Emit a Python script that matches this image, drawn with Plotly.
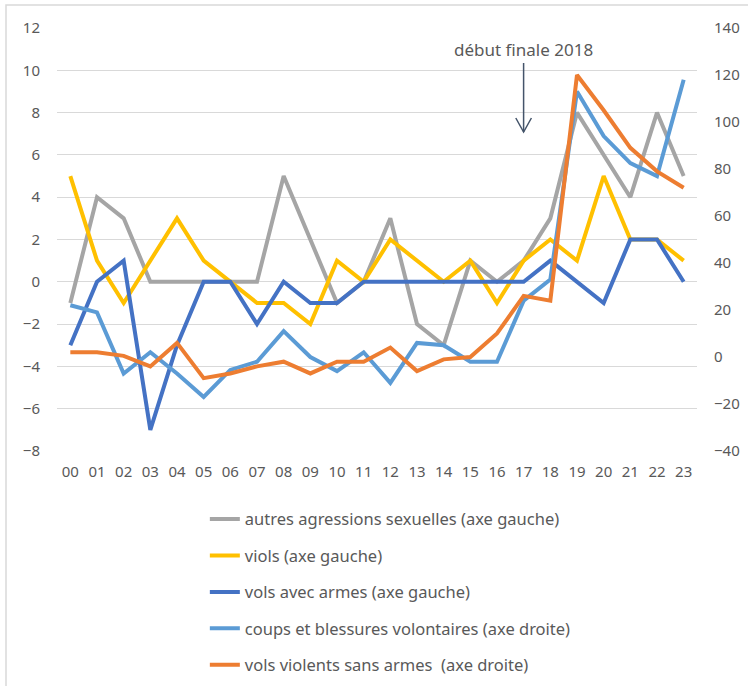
import plotly.graph_objects as go

categories = ["00","01","02","03","04","05","06","07","08","09","10","11",
              "12","13","14","15","16","17","18","19","20","21","22","23"]

autres_agressions = [-1, 4, 3, 0, 0, 0, 0, 0, 5, 2, -1, 0, 3, -2, -3, 1, 0, 1, 3, 8, 6, 4, 8, 5]
viols = [5, 1, -1, 1, 3, 1, 0, -1, -1, -2, 1, 0, 2, 1, 0, 1, -1, 1, 2, 1, 5, 2, 2, 1]
vols_armes = [-3, 0, 1, -7, -3, 0, 0, -2, 0, -1, -1, 0, 0, 0, 0, 0, 0, 0, 1, 0, -1, 2, 2, 0]
coups_blessures = [22, 19, -7, 2, -7, -17, -5.5, -2, 11, 0, -6, 2, -11, 6, 5, -2, -2, 24, 33, 113, 94, 82.5, 77, 118]
vols_violents = [2, 2, 0.5, -4, 6, -9, -7, -4, -2, -7, -2, -2, 4, -6, -1, 0, 10, 26, 24, 120, 105, 89, 79, 72]

left_ticks = [12, 10, 8, 6, 4, 2, 0, -2, -4, -6, -8]
right_ticks = [140, 120, 100, 80, 60, 40, 20, 0, -20, -40]

FONT = "Noto Sans"
TXT = "#595959"

fig = go.Figure()
series = [
    ("autres agressions sexuelles (axe gauche)", autres_agressions, "#a5a5a5", "y"),
    ("viols (axe gauche)", viols, "#ffc000", "y"),
    ("vols avec armes (axe gauche)", vols_armes, "#4472c4", "y"),
    ("coups et blessures volontaires (axe droite)", coups_blessures, "#5b9bd5", "y2"),
    ("vols violents sans armes  (axe droite)", vols_violents, "#ed7d31", "y2"),
]
for i, (name, vals, col, ax) in enumerate(series):
    fig.add_trace(go.Scatter(x=categories, y=vals, name=name, mode="lines",
                             line=dict(color=col, width=4), yaxis=ax,
                             legendgroup=f"g{i}"))

fig.update_layout(
    width=748, height=686,
    margin=dict(l=57, r=51, t=28, b=235, autoexpand=False),
    plot_bgcolor="white", paper_bgcolor="white",
    font=dict(family=FONT, size=15, color=TXT),
    xaxis=dict(type="category", range=[-0.5, 23.5], showgrid=False, showline=False, ticks="",
               automargin=False,
               tickfont=dict(size=15, color=TXT), ticklabelstandoff=10),
    yaxis=dict(range=[-8, 12], tickvals=left_ticks, showgrid=True, automargin=False,
               gridcolor="#d9d9d9", gridwidth=1.3, zeroline=False, ticks="",
               tickfont=dict(size=15, color=TXT), ticklabelstandoff=16),
    yaxis2=dict(range=[-40, 140], tickvals=right_ticks, overlaying="y", side="right",
                showgrid=False, zeroline=False, ticks="", automargin=False,
                tickfont=dict(size=15, color=TXT), ticklabelstandoff=16),
    showlegend=True,
    legend=dict(x=0.231, y=-0.12, xanchor="left", yanchor="top",
                orientation="v", tracegroupgap=12,
                font=dict(family=FONT, size=16.5, color=TXT),
                bgcolor="rgba(0,0,0,0)"),
)

# border around chart area
fig.add_shape(type="rect", xref="paper", yref="paper",
              x0=(6 - 57) / 640, x1=(760 - 57) / 640,
              y0=(451 - 700) / 423, y1=(451 - 5) / 423,
              line=dict(color="#d9d9d9", width=1.5), layer="below")

# annotation
fig.add_annotation(text="début finale 2018", xref="paper", yref="paper",
                   x=(523 - 57) / 640, y=(451 - 50) / 423, showarrow=False,
                   xanchor="center", yanchor="middle",
                   font=dict(family=FONT, size=17, color=TXT))
ax_x = (523.6 - 57) / 640
fig.add_shape(type="line", xref="paper", yref="paper",
              x0=ax_x, x1=ax_x, y0=(451 - 63) / 423, y1=(451 - 132) / 423,
              line=dict(color="#44546a", width=1.5))
fig.add_shape(type="path", xref="paper", yref="paper",
              path=f"M {ax_x - 0.0122} {(451 - 118) / 423} L {ax_x} {(451 - 132) / 423} L {ax_x + 0.0122} {(451 - 118) / 423}",
              line=dict(color="#44546a", width=1.5))

fig.write_html("out.html", config={"displayModeBar": False},
               post_script="document.body.style.margin='0';")
